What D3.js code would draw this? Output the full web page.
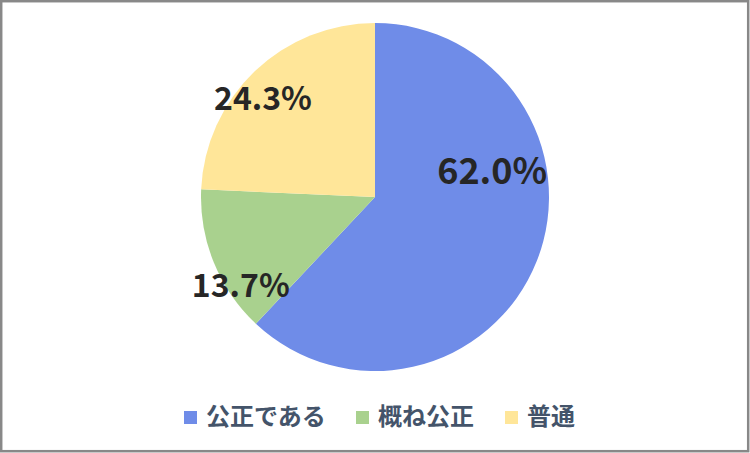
<!DOCTYPE html>
<html>
<head>
  <meta charset="utf-8">
  <title>Pie</title>
  <style>
    body { margin: 0; background: #fff; }
  </style>
</head>
<body>
  <div class="area"></div>

  <script src="https://cdn.jsdelivr.net/npm/d3@7"></script>
  <script type="text/javascript">

  var categories = ['公正である', '概ね公正', '普通'];
  var values = [62.0, 13.7, 24.3];
  var colors = ['#6f8ce8', '#a9d18e', '#ffe699'];

  var w = 750, h = 453;
  var cx = 375, cy = 197, r = 174;

  var svg = d3.select('.area')
    .append('svg')
    .attr('width', w)
    .attr('height', h);

  svg.append('rect')
    .attr('x', 1.2).attr('y', 1.2)
    .attr('width', w - 3).attr('height', h - 3)
    .attr('fill', '#fff')
    .attr('stroke', '#888')
    .attr('stroke-width', 2.5);

  var pie = d3.pie().sort(null).value(function(d){ return d; });
  var arcs = pie(values);
  var arc = d3.arc().innerRadius(0).outerRadius(r);

  var g = svg.append('g').attr('transform', 'translate(' + cx + ',' + cy + ')');

  g.selectAll('path.slice')
    .data(arcs)
    .enter().append('path')
    .attr('class', 'slice')
    .attr('d', arc)
    .attr('fill', function(d, i){ return colors[i]; });

  // where each label sits: fraction along the slice's angle, fraction of radius
  var labelAngle = [0.347, 0.27, 0.443];
  var labelRad = [0.69, 0.925, 0.857];
  var labelSize = [36, 32, 32];

  g.selectAll('text.lbl')
    .data(arcs)
    .enter().append('text')
    .attr('class', 'lbl')
    .attr('transform', function(d, i){
      var a = d.startAngle + (d.endAngle - d.startAngle) * labelAngle[i];
      var rr = r * labelRad[i];
      return 'translate(' + (Math.sin(a) * rr) + ',' + (-Math.cos(a) * rr) + ')';
    })
    .attr('text-anchor', 'middle')
    .attr('dy', '0.36em')
    .style('font-family', '"Noto Sans CJK JP", "Noto Sans", sans-serif')
    .style('font-weight', 700)
    .style('font-size', function(d, i){ return labelSize[i] + 'px'; })
    .attr('fill', '#262626')
    .text(function(d){ return d.data.toFixed(1) + '%'; });

  // legend
  var legendX = [184, 356, 505];
  var lg = svg.append('g').selectAll('g')
    .data(categories)
    .enter().append('g')
    .attr('transform', function(d, i){ return 'translate(' + legendX[i] + ',411)'; });

  lg.append('rect')
    .attr('width', 13).attr('height', 13)
    .attr('fill', function(d, i){ return colors[i]; });

  lg.append('text')
    .attr('x', 22).attr('y', 13.5)
    .style('font-family', '"Noto Sans CJK JP", sans-serif')
    .style('font-weight', 700)
    .style('font-size', '24px')
    .attr('fill', '#44546a')
    .text(function(d){ return d; });

  </script>
</body>
</html>
